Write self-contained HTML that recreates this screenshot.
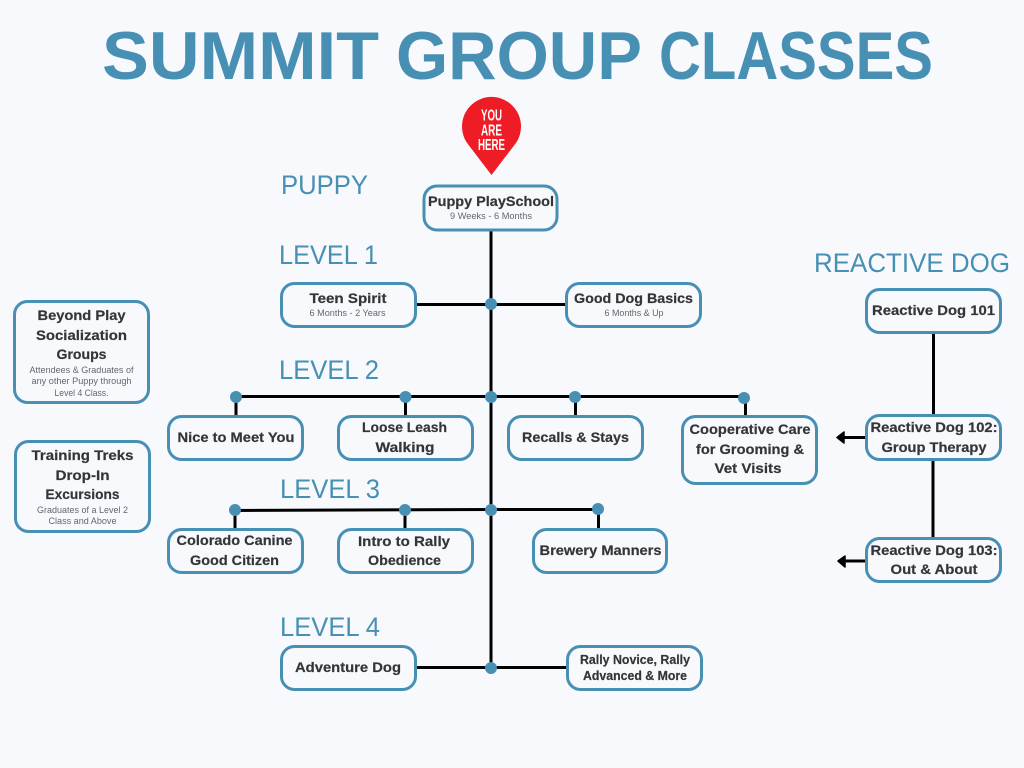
<!DOCTYPE html>
<html>
<head>
<meta charset="utf-8">
<style>
html,body{margin:0;padding:0;background:#f7f9fd;}
svg{display:block;}
text{font-family:"Liberation Sans",sans-serif;}
.b{fill:#f7f9fd;stroke:#488fb4;stroke-width:3;}
.t{font-weight:bold;font-size:14px;fill:#333538;text-anchor:middle;stroke:#333538;stroke-width:.2;}
.s{font-size:9px;fill:#63666a;text-anchor:middle;}
.h{font-size:27px;fill:#488fb4;}
.l{stroke:#000;stroke-width:3;fill:none;}
.d{fill:#488fb4;}
.g{font-size:68px;font-weight:bold;fill:#488fb4;}
.p{font-size:16px;font-weight:bold;fill:#fff;text-anchor:middle;}
</style>
</head>
<body>
<svg width="1024" height="768" viewBox="0 0 1024 768" xmlns="http://www.w3.org/2000/svg">
<rect width="1024" height="768" fill="#f7f9fd"/>
<text class="g" x="102" y="79" textLength="277" lengthAdjust="spacingAndGlyphs">SUMMIT</text>
<text class="g" x="396" y="79" textLength="246" lengthAdjust="spacingAndGlyphs">GROUP</text>
<text class="g" x="659" y="79" textLength="274" lengthAdjust="spacingAndGlyphs">CLASSES</text>

<!-- pin -->
<path d="M491.500 175 L468.100 144.400 A29.500 29.500 0 1 1 514.900 144.400 Z" fill="#ee1c25"/>
<text class="p" x="491.500" y="120.500" textLength="21" lengthAdjust="spacingAndGlyphs">YOU</text>
<text class="p" x="491.500" y="135.500" textLength="21" lengthAdjust="spacingAndGlyphs">ARE</text>
<text class="p" x="491.500" y="150" textLength="27" lengthAdjust="spacingAndGlyphs">HERE</text>

<!-- connectors -->
<path class="l" d="M491 230V667"/>
<path class="l" d="M416 304.500H566"/>
<path class="l" d="M236 396.500H744"/>
<path class="l" d="M236 396V416M405.500 396V416M575.500 396V416M745.500 396V416"/>
<path class="l" d="M235 510.500L491 509.500H598"/>
<path class="l" d="M235 510V529M405 510V529M598.500 510V529"/>
<path class="l" d="M416 667.500H567"/>
<path class="l" d="M933.500 333V415M933 460V538"/>
<path class="l" d="M866 437.500H842M866 561H843"/>
<path d="M837 437.500L844 432V443Z M838 561L845 556V567Z" fill="#000" stroke="#000" stroke-width="1.500" stroke-linejoin="round"/>

<circle class="d" cx="491" cy="304" r="6"/>
<circle class="d" cx="236" cy="397" r="6"/>
<circle class="d" cx="405.500" cy="397" r="6"/>
<circle class="d" cx="491" cy="397" r="6"/>
<circle class="d" cx="575" cy="397" r="6"/>
<circle class="d" cx="744" cy="398" r="6"/>
<circle class="d" cx="235" cy="510" r="6"/>
<circle class="d" cx="405" cy="510" r="6"/>
<circle class="d" cx="491" cy="510" r="6"/>
<circle class="d" cx="598" cy="509" r="6"/>
<circle class="d" cx="491" cy="668" r="6"/>

<!-- headings -->
<text class="h" x="281" y="194" textLength="87" lengthAdjust="spacingAndGlyphs">PUPPY</text>
<text class="h" x="279" y="264" textLength="99" lengthAdjust="spacingAndGlyphs">LEVEL 1</text>
<text class="h" x="279" y="379" textLength="100" lengthAdjust="spacingAndGlyphs">LEVEL 2</text>
<text class="h" x="280" y="498" textLength="100" lengthAdjust="spacingAndGlyphs">LEVEL 3</text>
<text class="h" x="280" y="636" textLength="100" lengthAdjust="spacingAndGlyphs">LEVEL 4</text>
<text class="h" x="814" y="272" textLength="196" lengthAdjust="spacingAndGlyphs">REACTIVE DOG</text>

<!-- boxes -->
<rect class="b" x="424" y="186" width="133" height="44" rx="13"/>
<text class="t" x="491" y="206" textLength="126" lengthAdjust="spacingAndGlyphs">Puppy PlaySchool</text>
<text class="s" x="491" y="219" textLength="82" lengthAdjust="spacingAndGlyphs">9 Weeks - 6 Months</text>

<rect class="b" x="281.500" y="283.500" width="134" height="43" rx="13"/>
<text class="t" x="348" y="303" textLength="77" lengthAdjust="spacingAndGlyphs">Teen Spirit</text>
<text class="s" x="347.500" y="316" textLength="76" lengthAdjust="spacingAndGlyphs">6 Months - 2 Years</text>

<rect class="b" x="566.500" y="283.500" width="134" height="43" rx="13"/>
<text class="t" x="633.500" y="303" textLength="119" lengthAdjust="spacingAndGlyphs">Good Dog Basics</text>
<text class="s" x="634" y="316" textLength="59" lengthAdjust="spacingAndGlyphs">6 Months &amp; Up</text>

<rect class="b" x="866.500" y="289.500" width="134" height="43" rx="13"/>
<text class="t" x="933.500" y="315" textLength="123" lengthAdjust="spacingAndGlyphs">Reactive Dog 101</text>

<rect class="b" x="14.500" y="301.500" width="134" height="101" rx="13"/>
<text class="t" x="81.500" y="320" textLength="88" lengthAdjust="spacingAndGlyphs">Beyond Play</text>
<text class="t" x="81.500" y="340" textLength="91" lengthAdjust="spacingAndGlyphs">Socialization</text>
<text class="t" x="81.500" y="359" textLength="50" lengthAdjust="spacingAndGlyphs">Groups</text>
<text class="s" x="81.500" y="373" textLength="104" lengthAdjust="spacingAndGlyphs">Attendees &amp; Graduates of</text>
<text class="s" x="81.500" y="384" textLength="100" lengthAdjust="spacingAndGlyphs">any other Puppy through</text>
<text class="s" x="81.500" y="396" textLength="54" lengthAdjust="spacingAndGlyphs">Level 4 Class.</text>

<rect class="b" x="15.500" y="441.500" width="134" height="90" rx="13"/>
<text class="t" x="82.500" y="460" textLength="102" lengthAdjust="spacingAndGlyphs">Training Treks</text>
<text class="t" x="82.500" y="480" textLength="54" lengthAdjust="spacingAndGlyphs">Drop-In</text>
<text class="t" x="82.500" y="499" textLength="74" lengthAdjust="spacingAndGlyphs">Excursions</text>
<text class="s" x="82.500" y="513" textLength="91" lengthAdjust="spacingAndGlyphs">Graduates of a Level 2</text>
<text class="s" x="82.500" y="524" textLength="68" lengthAdjust="spacingAndGlyphs">Class and Above</text>

<rect class="b" x="168.500" y="416.500" width="134" height="43" rx="13"/>
<text class="t" x="236" y="442" textLength="117" lengthAdjust="spacingAndGlyphs">Nice to Meet You</text>

<rect class="b" x="338.500" y="416.500" width="134" height="43" rx="13"/>
<text class="t" x="404.500" y="432" textLength="85" lengthAdjust="spacingAndGlyphs">Loose Leash</text>
<text class="t" x="405" y="452" textLength="59" lengthAdjust="spacingAndGlyphs">Walking</text>

<rect class="b" x="508.500" y="416.500" width="134" height="43" rx="13"/>
<text class="t" x="575.500" y="442" textLength="107" lengthAdjust="spacingAndGlyphs">Recalls &amp; Stays</text>

<rect class="b" x="682.500" y="416.500" width="134" height="67" rx="13"/>
<text class="t" x="750" y="434" textLength="121" lengthAdjust="spacingAndGlyphs">Cooperative Care</text>
<text class="t" x="750" y="454" textLength="108" lengthAdjust="spacingAndGlyphs">for Grooming &amp;</text>
<text class="t" x="748" y="473" textLength="67" lengthAdjust="spacingAndGlyphs">Vet Visits</text>

<rect class="b" x="866.500" y="415.500" width="134" height="44" rx="13"/>
<text class="t" x="934" y="432" textLength="127" lengthAdjust="spacingAndGlyphs">Reactive Dog 102:</text>
<text class="t" x="934" y="452" textLength="105" lengthAdjust="spacingAndGlyphs">Group Therapy</text>

<rect class="b" x="866.500" y="538.500" width="134" height="43" rx="13"/>
<text class="t" x="934" y="555" textLength="127" lengthAdjust="spacingAndGlyphs">Reactive Dog 103:</text>
<text class="t" x="934" y="574" textLength="87" lengthAdjust="spacingAndGlyphs">Out &amp; About</text>

<rect class="b" x="168.500" y="529.500" width="134" height="43" rx="13"/>
<text class="t" x="234.500" y="545" textLength="116" lengthAdjust="spacingAndGlyphs">Colorado Canine</text>
<text class="t" x="234.500" y="565" textLength="89" lengthAdjust="spacingAndGlyphs">Good Citizen</text>

<rect class="b" x="338.500" y="529.500" width="134" height="43" rx="13"/>
<text class="t" x="404" y="546" textLength="92" lengthAdjust="spacingAndGlyphs">Intro to Rally</text>
<text class="t" x="404.500" y="565" textLength="73" lengthAdjust="spacingAndGlyphs">Obedience</text>

<rect class="b" x="533.500" y="529.500" width="133" height="43" rx="13"/>
<text class="t" x="600.500" y="555" textLength="122" lengthAdjust="spacingAndGlyphs">Brewery Manners</text>

<rect class="b" x="281.500" y="646.500" width="134" height="43" rx="13"/>
<text class="t" x="348" y="672" textLength="106" lengthAdjust="spacingAndGlyphs">Adventure Dog</text>

<rect class="b" x="567.500" y="646.500" width="134" height="43" rx="13"/>
<text class="t" x="635" y="664" style="font-size:12.500px" textLength="110" lengthAdjust="spacingAndGlyphs">Rally Novice, Rally</text>
<text class="t" x="635" y="680" style="font-size:12.500px" textLength="104" lengthAdjust="spacingAndGlyphs">Advanced &amp; More</text>
</svg>
</body>
</html>
